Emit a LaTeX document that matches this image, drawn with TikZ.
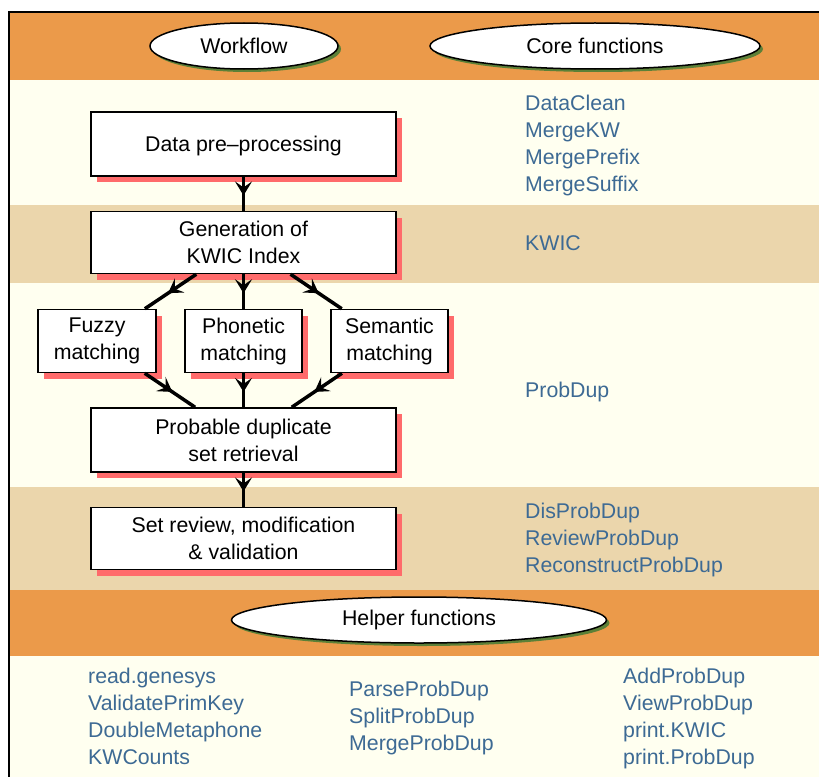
\documentclass[tikz,border=0pt]{standalone}
\usepackage{fontspec}
\setmainfont{Liberation Sans}
\usepackage{xcolor}
\usetikzlibrary{shapes.geometric,shadows,arrows.meta,decorations.markings}

\definecolor{bandorange}{RGB}{235,154,74}
\definecolor{bandtan}{RGB}{235,214,172}
\definecolor{bandcream}{RGB}{255,255,240}
\definecolor{fnblue}{RGB}{61,106,148}
\definecolor{shadowred}{RGB}{255,107,107}
\definecolor{shadowgreen}{RGB}{92,128,55}

\tikzset{
  stagebox/.style={draw, fill=white, line width=1.5bp, align=center, inner sep=0,
    drop shadow={shadow xshift=6bp, shadow yshift=-6bp, fill=shadowred, opacity=1}},
  oval/.style={ellipse, draw, fill=white, line width=1.5bp, inner sep=0, minimum height=46bp,
    drop shadow={shadow xshift=3bp, shadow yshift=-3bp, fill=shadowgreen, opacity=1}},
  fn/.style={anchor=base west, text=fnblue, inner sep=0},
  flow/.style={line width=3.5bp, postaction={decorate},
    decoration={markings, mark=at position 0.55 with {\arrow{Stealth[length=14bp,width=17bp,inset=6bp]}}}}
}

\begin{document}
\begin{tikzpicture}[x=1bp,y=-1bp,font=\fontsize{21.3bp}{27bp}\selectfont]
\useasboundingbox (0,0) rectangle (819,777);

% bands
\fill[bandorange] (9,12) rectangle (819,80);
\fill[bandcream] (9,80) rectangle (819,205);
\fill[bandtan] (9,205) rectangle (819,283);
\fill[bandcream] (9,283) rectangle (819,487);
\fill[bandtan] (9,487) rectangle (819,590);
\fill[bandorange] (9,590) rectangle (819,656);
\fill[bandcream] (9,656) rectangle (819,777);
\draw[line width=2bp] (9,777) -- (9,12) -- (819,12);

% headers
\node[oval, minimum width=188bp] (workflow) at (244,46) {Workflow};
\node[oval, minimum width=330bp] (core) at (595,46) {Core functions};
\node[oval, minimum width=375bp] (helper) at (419,620) {Helper functions};

% workflow
\node[stagebox, minimum width=305bp, minimum height=64bp, text height=15bp, text depth=0bp] (data) at (243.5,144) {Data pre--processing};
\node[stagebox, minimum width=305bp, minimum height=62bp] (kwic) at (243.5,242.5) {Generation of\\KWIC Index};
\node[stagebox, minimum width=118bp, minimum height=63bp] (fuzzy) at (97,341) {Fuzzy\\matching};
\node[stagebox, minimum width=117bp, minimum height=63bp] (phonetic) at (243.5,341) {Phonetic\\matching};
\node[stagebox, minimum width=117bp, minimum height=63bp] (semantic) at (389.5,341) {Semantic\\matching};
\node[stagebox, minimum width=305bp, minimum height=64bp] (probdup) at (243.5,440) {Probable duplicate\\set retrieval};
\node[stagebox, minimum width=305bp, minimum height=62bp] (review) at (243.5,538.5) {Set review, modification\\\& validation};

\draw[flow] (data) -- (kwic);
\draw[flow] (kwic) -- (fuzzy);
\draw[flow] (kwic) -- (phonetic);
\draw[flow] (kwic) -- (semantic);
\draw[flow] (fuzzy) -- (probdup);
\draw[flow] (phonetic) -- (probdup);
\draw[flow] (semantic) -- (probdup);
\draw[flow] (probdup) -- (review);

% core functions
\node[fn] (dataclean) at (525,110) {DataClean};
\node[fn] (mergekw) at (525,137) {MergeKW};
\node[fn] (mergeprefix) at (525,164) {MergePrefix};
\node[fn] (mergesuffix) at (525,191) {MergeSuffix};
\node[fn] (kwicfn) at (525,250) {KWIC};
\node[fn] (probdupfn) at (525,397) {ProbDup};
\node[fn] (disprobdup) at (525,518) {DisProbDup};
\node[fn] (reviewprobdup) at (525,545) {ReviewProbDup};
\node[fn] (reconstructprobdup) at (525,572) {ReconstructProbDup};

% helper functions
\node[fn] (readgenesys) at (88,683) {read.genesys};
\node[fn] (validateprimkey) at (88,710) {ValidatePrimKey};
\node[fn] (doublemetaphone) at (88,737) {DoubleMetaphone};
\node[fn] (kwcounts) at (88,764) {KWCounts};
\node[fn] (parseprobdup) at (349,696) {ParseProbDup};
\node[fn] (splitprobdup) at (349,723) {SplitProbDup};
\node[fn] (mergeprobdup) at (349,750) {MergeProbDup};
\node[fn] (addprobdup) at (623,683) {AddProbDup};
\node[fn] (viewprobdup) at (623,710) {ViewProbDup};
\node[fn] (printkwic) at (623,737) {print.KWIC};
\node[fn] (printprobdup) at (623,764) {print.ProbDup};
\end{tikzpicture}
\end{document}
